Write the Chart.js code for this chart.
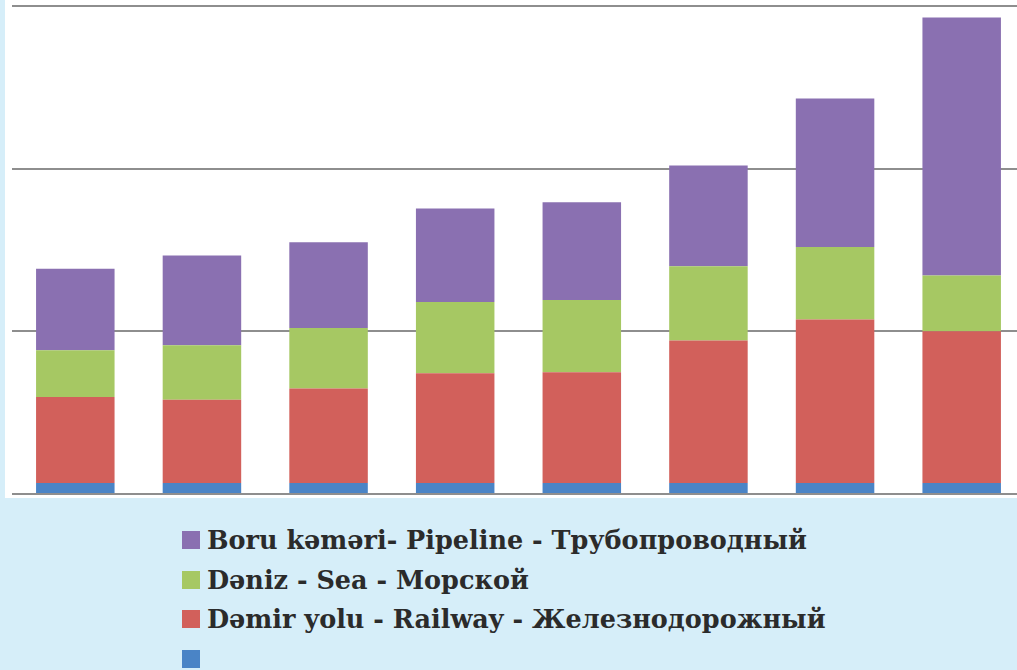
<!DOCTYPE html>
<html>
<head>
<meta charset="utf-8">
<script src="https://cdn.jsdelivr.net/npm/chart.js@4"></script>
<style>
  html, body {
    margin: 0;
    padding: 0;
    width: 1017px;
    height: 670px;
    overflow: hidden;
    background: #d6eef9;
  }
  #plot {
    position: absolute;
    left: 5px;
    top: 0;
    width: 1012px;
    height: 498px;
    background: #ffffff;
  }
  #wrap {
    position: absolute;
    left: 0;
    top: 0;
    width: 1030px;
    height: 500px;
  }
  #legend {
    position: absolute;
    left: 182px;
    top: 529px;
    margin: 0;
    padding: 0;
    list-style: none;
    font-family: "DejaVu Serif", "Liberation Serif", serif;
    font-weight: bold;
    font-size: 25.5px;
    color: #2b2b2b;
  }
  #legend li {
    height: 39.5px;
    display: flex;
    align-items: flex-start;
    white-space: nowrap;
  }
  #legend .box {
    width: 18px;
    height: 18px;
    margin-top: 2px;
    margin-right: 7px;
    flex: none;
  }
  #legend .txt {
    line-height: 22px;
  }
</style>
</head>
<body>
<div id="plot"></div>
<div id="wrap"><canvas id="cargo"></canvas></div>
<ul id="legend"></ul>

<script>
// years on the category axis (labels are not shown)
const years = ['2005', '2006', '2007', '2008', '2009', '2010', '2011', '2012'];

// stacked series, bottom to top
const other    = [0.68, 0.68, 0.68, 0.68, 0.68, 0.68, 0.68, 0.68];
const railway  = [5.29, 5.12, 5.80, 6.74, 6.80, 8.75, 10.04, 9.32];
const sea      = [2.86, 3.34, 3.73, 4.39, 4.45, 4.57, 4.47, 3.44];
const pipeline = [5.01, 5.52, 5.26, 5.74, 6.00, 6.19, 9.12, 15.85];

// value axis gridlines
const yTicks = [0, 10, 20, 30];

const seriesNames = {
    other: '',
    railway: 'Dəmir yolu - Railway - Железнодорожный',
    sea: 'Dəniz - Sea - Морской',
    pipeline: 'Boru kəməri- Pipeline - Трубопроводный'
};

const colors = {
    other: '#4a84c6',
    railway: '#d2605b',
    sea: '#a6c863',
    pipeline: '#8a70b1'
};

const canvas = document.getElementById('cargo');
canvas.width = 1030;
canvas.height = 500;

const chart = new Chart(canvas, {
    type: 'bar',
    data: {
        labels: years,
        datasets: [
            { label: seriesNames.other, data: other, backgroundColor: colors.other },
            { label: seriesNames.railway, data: railway, backgroundColor: colors.railway },
            { label: seriesNames.sea, data: sea, backgroundColor: colors.sea },
            { label: seriesNames.pipeline, data: pipeline, backgroundColor: colors.pipeline }
        ]
    },
    options: {
        responsive: false,
        animation: false,
        layout: {
            padding: { left: 12, right: 5, top: 6, bottom: 6 }
        },
        datasets: {
            bar: {
                categoryPercentage: 1,
                barPercentage: 0.62,
                borderWidth: 0
            }
        },
        plugins: {
            legend: { display: false },
            tooltip: { enabled: false }
        },
        scales: {
            x: {
                display: false,
                stacked: true
            },
            y: {
                stacked: true,
                min: yTicks[0],
                max: yTicks[yTicks.length - 1],
                afterBuildTicks: function(scale) {
                    scale.ticks = yTicks.map(v => ({ value: v }));
                },
                grid: {
                    color: '#8e8e8e',
                    lineWidth: 2,
                    drawTicks: false
                },
                border: { display: false },
                ticks: { display: false }
            }
        }
    }
});

// legend list, top series first
const legend = document.getElementById('legend');
chart.data.datasets.slice().reverse().forEach(function(ds) {
    const li = document.createElement('li');
    const box = document.createElement('span');
    box.className = 'box';
    box.style.background = ds.backgroundColor;
    const txt = document.createElement('span');
    txt.className = 'txt';
    txt.textContent = ds.label;
    li.appendChild(box);
    li.appendChild(txt);
    legend.appendChild(li);
});
</script>
</body>
</html>
